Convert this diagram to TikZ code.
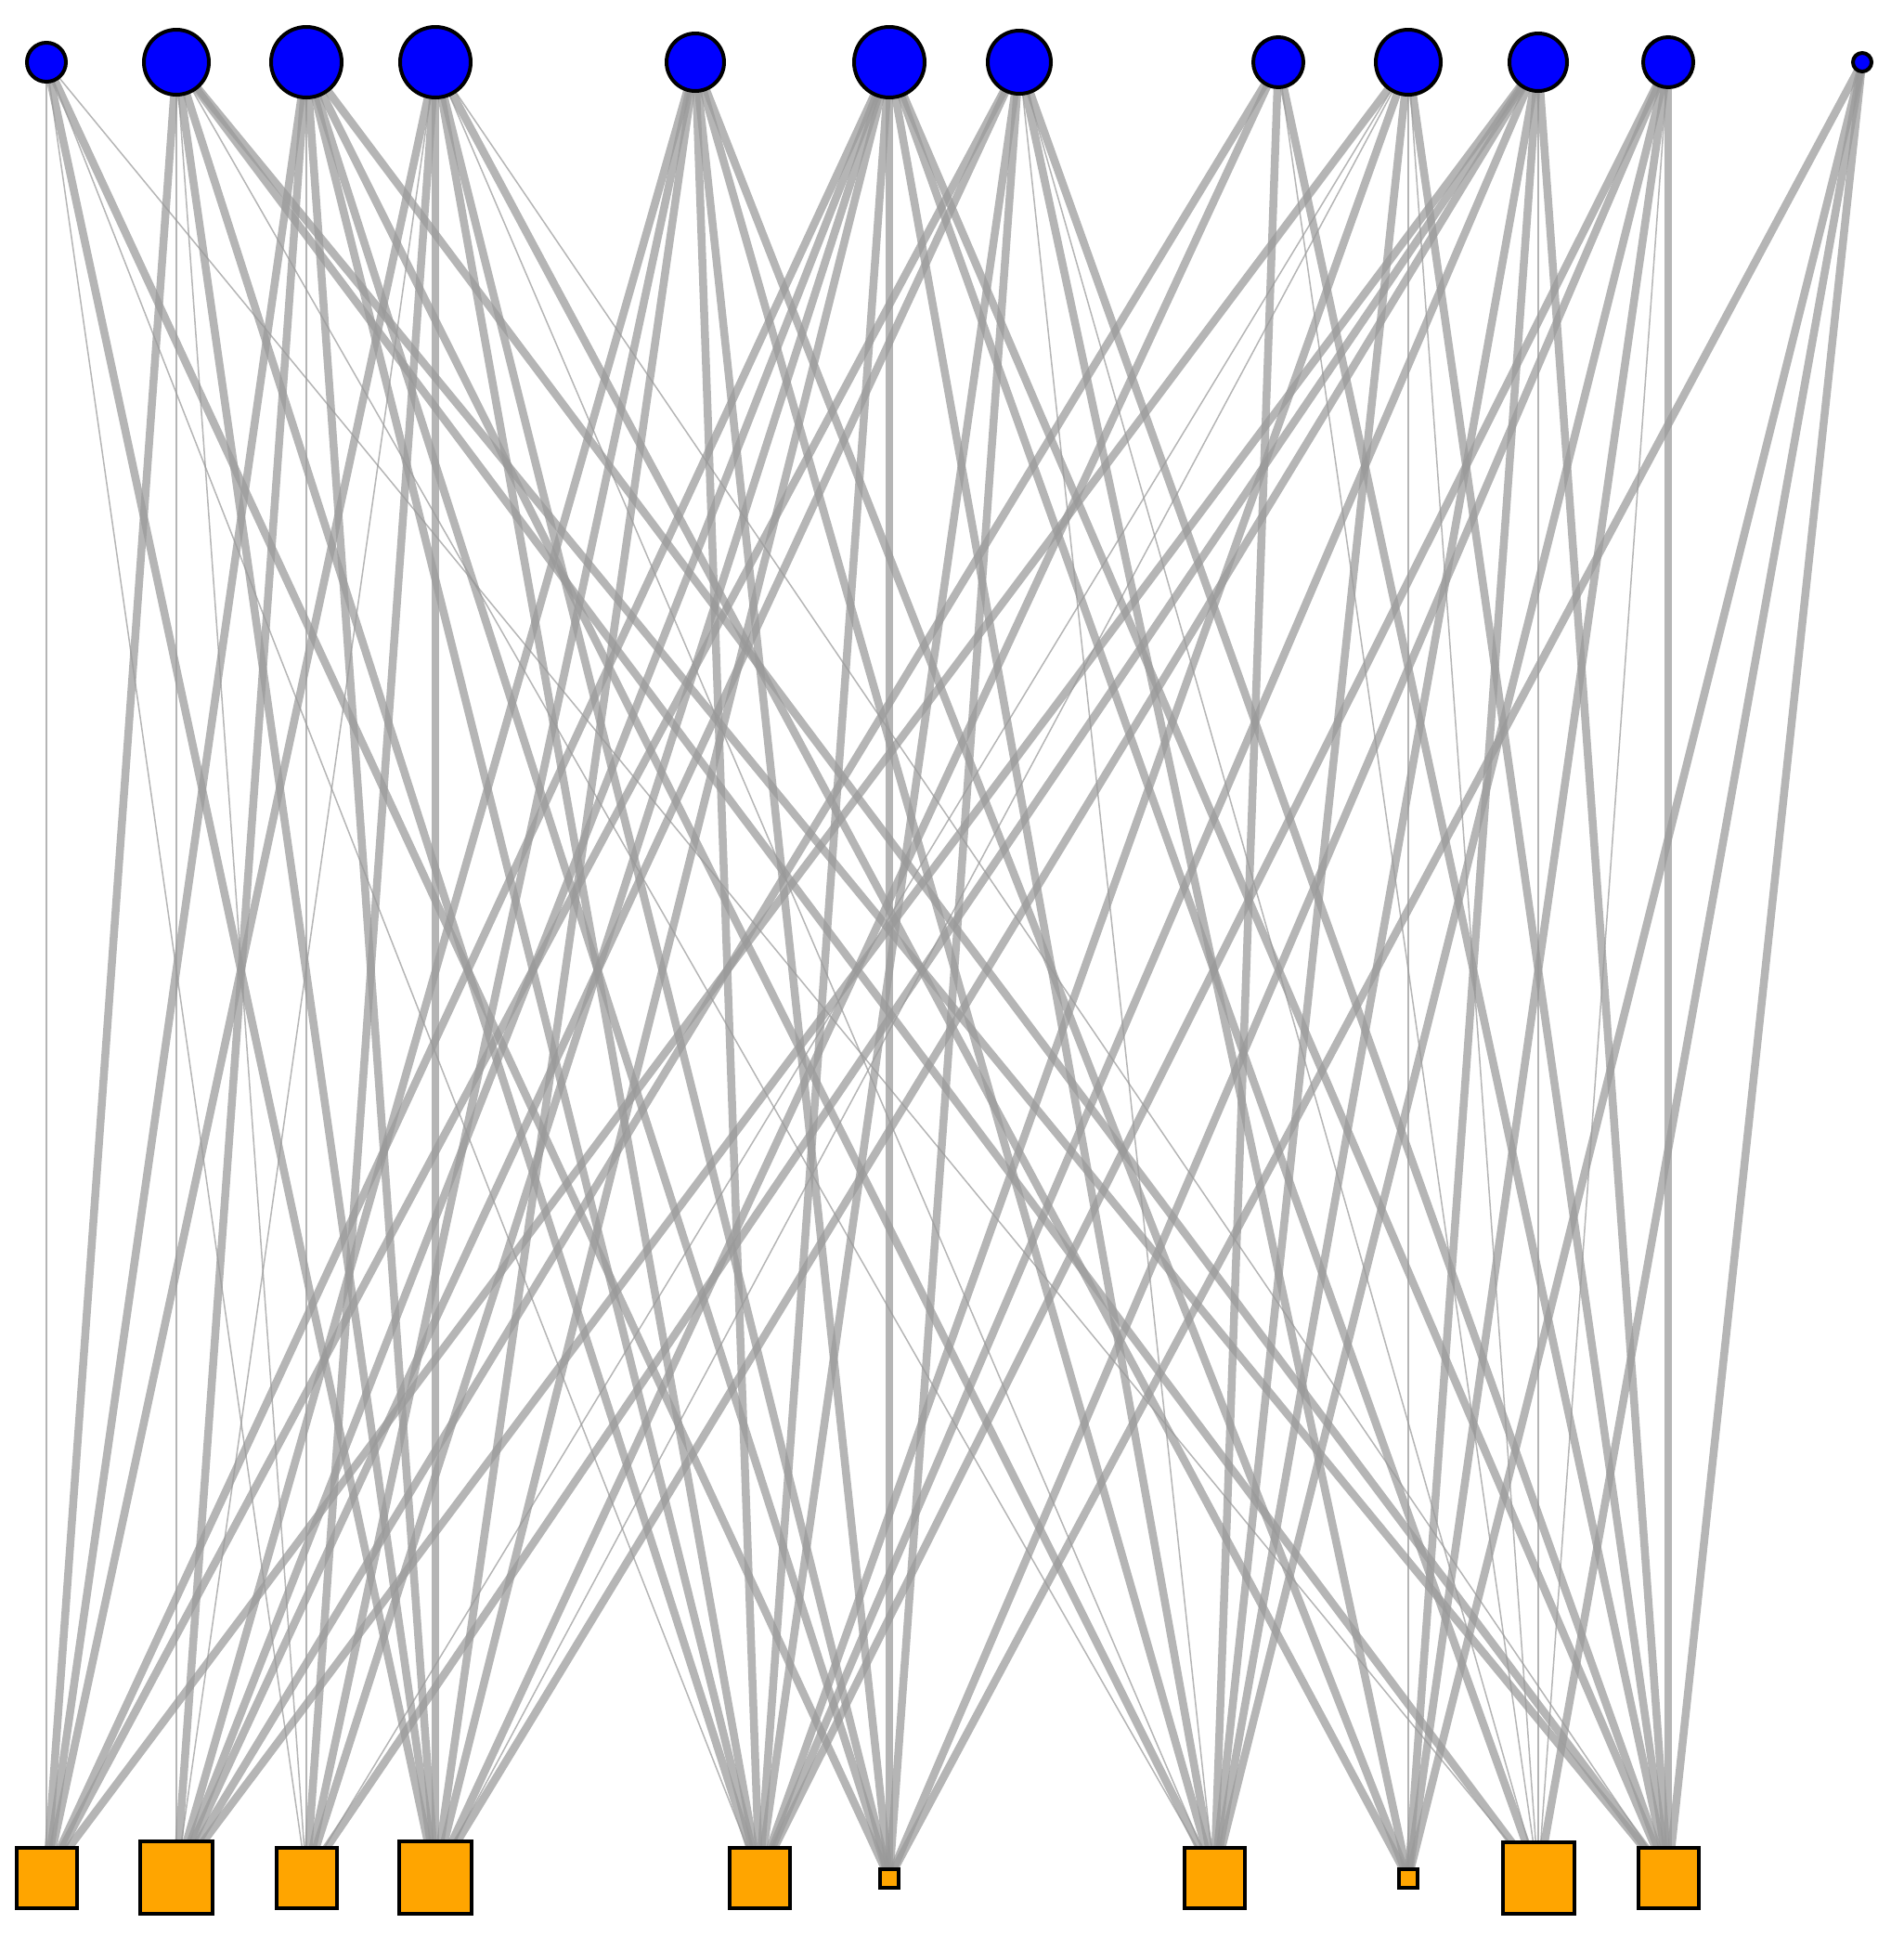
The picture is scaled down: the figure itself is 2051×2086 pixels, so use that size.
\documentclass[tikz,border=0pt]{standalone}
\usetikzlibrary{backgrounds}
\definecolor{nodeblue}{RGB}{0,0,255}
\definecolor{nodeorange}{RGB}{255,165,0}
\definecolor{edgec}{RGB}{153,153,153}
\tikzset{
  topn/.style={circle,draw=black,fill=nodeblue,line width=4pt,inner sep=0pt,minimum size=#1},
  botn/.style={rectangle,draw=black,fill=nodeorange,line width=4pt,inner sep=0pt,minimum size=#1},
  ew/.style={draw=edgec,draw opacity=0.73,line width=#1},
  thin/.style={ew=1.5pt},
  mid/.style={ew=6pt},
  thick/.style={ew=8.5pt}
}
\begin{document}
\begin{tikzpicture}[x=1pt,y=-1pt]
\useasboundingbox (0,0) rectangle (2051,2086);
% top nodes
\node[topn=42pt] (t1) at (50,67) {};
\node[topn=70pt] (t2) at (190,67) {};
\node[topn=76pt] (t3) at (330,67) {};
\node[topn=76pt] (t4) at (469,67) {};
\node[topn=62pt] (t5) at (749,67) {};
\node[topn=76pt] (t6) at (958,67) {};
\node[topn=68pt] (t7) at (1098,67) {};
\node[topn=54pt] (t8) at (1377,67) {};
\node[topn=70pt] (t9) at (1517,67) {};
\node[topn=62pt] (t10) at (1657,67) {};
\node[topn=54pt] (t11) at (1797,67) {};
\node[topn=20pt] (t12) at (2006,67) {};
% bottom nodes
\node[botn=65pt] (b1) at (50,2022) {};
\node[botn=78pt] (b2) at (190,2022) {};
\node[botn=65pt] (b3) at (330,2022) {};
\node[botn=78pt] (b4) at (469,2022) {};
\node[botn=65pt] (b5) at (818,2022) {};
\node[botn=20pt] (b6) at (958,2023) {};
\node[botn=65pt] (b7) at (1308,2022) {};
\node[botn=20pt] (b8) at (1517,2023) {};
\node[botn=77pt] (b9) at (1657,2022) {};
\node[botn=65pt] (b10) at (1797,2022) {};
\begin{pgfonlayer}{background}
\foreach \a/\b/\s in {
 t1/b1/thin, t1/b3/thin, t1/b4/thick, t1/b5/thin, t1/b6/thick, t1/b9/thin,
 t2/b1/thick, t2/b2/thin, t2/b3/thin, t2/b4/thick, t2/b5/thick, t2/b7/thin, t2/b9/thick, t2/b10/thick,
 t3/b1/thick, t3/b2/thick, t3/b3/thin, t3/b4/thick, t3/b5/thick, t3/b6/thick, t3/b7/thick, t3/b10/thick,
 t4/b1/thick, t4/b2/thin, t4/b3/thick, t4/b4/thick, t4/b5/thick, t4/b6/thick, t4/b7/thin, t4/b8/thick, t4/b10/thin,
 t5/b2/thick, t5/b3/thick, t5/b4/thick, t5/b5/thick, t5/b6/thick, t5/b7/thick, t5/b8/thick,
 t6/b1/thick, t6/b2/thick, t6/b3/thick, t6/b4/thick, t6/b5/thick, t6/b6/thick, t6/b7/thick, t6/b9/thick, t6/b10/thick,
 t7/b1/thick, t7/b2/thick, t7/b5/thick, t7/b6/thick, t7/b7/thin, t7/b8/thick, t7/b9/thin, t7/b10/thick,
 t8/b2/thick, t8/b4/thick, t8/b7/thick, t8/b9/thin, t8/b10/thick,
 t9/b1/thick, t9/b3/thin, t9/b4/thin, t9/b5/thick, t9/b7/thick, t9/b8/thin, t9/b9/thin, t9/b10/thick,
 t10/b2/thick, t10/b3/thick, t10/b4/thick, t10/b5/thick, t10/b7/thick, t10/b8/thick, t10/b9/thin, t10/b10/thick,
 t11/b5/thick, t11/b6/thick, t11/b7/thick, t11/b8/thick, t11/b9/thin, t11/b10/thick,
 t12/b6/thick, t12/b8/thick, t12/b9/thick, t12/b10/thick}
  \draw[\s] (\a.center) -- (\b.center);
\end{pgfonlayer}
\end{tikzpicture}
\end{document}
